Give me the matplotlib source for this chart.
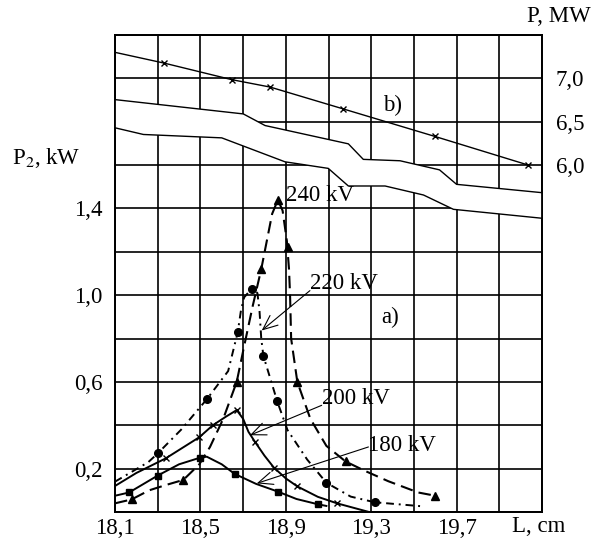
import matplotlib.pyplot as plt

plt.rcParams['font.family'] = ['Liberation Serif', 'DejaVu Serif']
plt.rcParams['mathtext.fontset'] = 'stix'

# ---------------- a) P2, kW against L, cm ----------------
# traced curve vertices
l240 = [18.10, 18.178, 18.26, 18.34, 18.42, 18.495, 18.545, 18.607, 18.67, 18.706,
        18.745, 18.785, 18.836, 18.863, 18.885, 18.905, 18.915, 18.92, 18.925, 18.954,
        19.015, 19.09, 19.18, 19.27, 19.38, 19.52, 19.60]
p240 = [0.04, 0.058, 0.10, 0.125, 0.148, 0.22, 0.30, 0.43, 0.60, 0.77,
        0.95, 1.12, 1.375, 1.44, 1.39, 1.25, 1.12, 1.00, 0.80, 0.60,
        0.43, 0.305, 0.233, 0.19, 0.142, 0.09, 0.075]
l240_pts = [18.178, 18.42, 18.67, 18.785, 18.863, 18.908, 18.954, 19.18, 19.60]
p240_pts = [0.058, 0.148, 0.60, 1.12, 1.44, 1.22, 0.60, 0.233, 0.075]

l220 = [18.10, 18.256, 18.30, 18.41, 18.53, 18.63, 18.675, 18.69, 18.705, 18.74,
        18.767, 18.777, 18.785, 18.795, 18.826, 18.86, 18.908, 19.00, 19.09, 19.204,
        19.316, 19.53]
p220 = [0.14, 0.23, 0.27, 0.38, 0.52, 0.65, 0.83, 0.93, 0.99, 1.03,
        1.01, 0.925, 0.80, 0.72, 0.62, 0.51, 0.378, 0.242, 0.135, 0.071,
        0.045, 0.027]
l220_pts = [18.30, 18.53, 18.675, 18.74, 18.795, 18.86, 19.09, 19.316]
p220_pts = [0.27, 0.52, 0.83, 1.03, 0.72, 0.51, 0.135, 0.045]

l200 = [18.10, 18.20, 18.337, 18.495, 18.558, 18.62, 18.67, 18.70, 18.725, 18.756,
        18.80, 18.844, 18.90, 18.954, 19.05, 19.14, 19.29]
p200 = [0.12, 0.18, 0.247, 0.345, 0.40, 0.44, 0.47, 0.43, 0.37, 0.323,
        0.26, 0.205, 0.155, 0.118, 0.07, 0.04, 0.0]
l200_pts = [18.337, 18.495, 18.558, 18.67, 18.756, 18.844, 18.954, 19.14]
p200_pts = [0.247, 0.345, 0.40, 0.47, 0.323, 0.205, 0.118, 0.04]

l180 = [18.10, 18.166, 18.30, 18.40, 18.50, 18.53, 18.60, 18.66, 18.76, 18.863,
        18.95, 19.049, 19.09]
p180 = [0.075, 0.09, 0.168, 0.22, 0.251, 0.255, 0.22, 0.176, 0.13, 0.094,
        0.06, 0.036, 0.028]
l180_pts = [18.166, 18.30, 18.50, 18.66, 18.863, 19.049]
p180_pts = [0.09, 0.168, 0.251, 0.176, 0.094, 0.036]

# ---------------- b) P, MW against L, cm ----------------
lb = [18.10, 18.33, 18.647, 18.826, 19.166, 19.599, 20.036]
pb = [7.30, 7.176, 6.985, 6.90, 6.65, 6.33, 6.00]
lb_pts = lb[1:]
pb_pts = pb[1:]

# band edges
l_up = [18.10, 18.701, 18.803, 19.193, 19.263, 19.435, 19.62, 19.70, 20.10]
p_up = [6.755, 6.59, 6.456, 6.245, 6.066, 6.05, 5.945, 5.778, 5.682]
l_lo = [18.10, 18.233, 18.60, 18.896, 19.099, 19.193, 19.365, 19.545, 19.685, 20.10]
p_lo = [6.43, 6.353, 6.314, 6.038, 5.962, 5.759, 5.759, 5.655, 5.49, 5.387]

x_grid = [18.1, 18.3, 18.5, 18.7, 18.9, 19.1, 19.3, 19.5, 19.7, 19.9, 20.1]
x_labels = ['18,1', '', '18,5', '', '18,9', '', '19,3', '', '19,7', '', '']
y_grid = [0.0, 0.2, 0.4, 0.6, 0.8, 1.0, 1.2, 1.4, 1.6, 1.8, 2.0, 2.2]
y_labels = ['', '0,2', '', '0,6', '', '1,0', '', '1,4', '', '', '', '']
p_ticks = [6.0, 6.5, 7.0]
p_labels = ['6,0', '6,5', '7,0']

FS = 16.5

fig = plt.figure(figsize=(5.95, 5.38), dpi=100)
ax = fig.add_axes([115 / 595, 1 - 512 / 538, 427 / 595, 477 / 538])
ax.set_xlim(18.1, 20.1)
ax.set_ylim(0, 2.2)
ax.set_xticks(x_grid)
ax.set_xticklabels(x_labels, fontsize=FS)
ax.set_yticks(y_grid)
ax.set_yticklabels(y_labels, fontsize=FS)
ax.tick_params(axis='both', length=0)
ax.tick_params(axis='x', pad=4)
ax.tick_params(axis='y', pad=9)
ax.grid(True, color='black', linewidth=1.2)
ax.set_axisbelow(True)
for sp in ax.spines.values():
    sp.set_linewidth(1.3)

ax.plot(l240, p240, color='black', lw=1.5, ls=(0, (6, 3)))
ax.plot(l240_pts, p240_pts, ls='none', marker='^', ms=6, color='black')
ax.plot(l220, p220, color='black', lw=1.4, ls=(0, (4, 2.5, 1, 2.5)))
ax.plot(l220_pts, p220_pts, ls='none', marker='o', ms=5.5, color='black')
ax.plot(l200, p200, color='black', lw=1.4)
ax.plot(l200_pts, p200_pts, ls='none', marker='x', ms=5, mew=1, color='black')
ax.plot(l180, p180, color='black', lw=1.4)
ax.plot(l180_pts, p180_pts, ls='none', marker='s', ms=4.5, color='black')

arrow = dict(arrowstyle='->,head_length=0.7,head_width=0.3', lw=0.8, color='black',
             shrinkA=0, shrinkB=0, mutation_scale=15)
ax.annotate('', xy=(18.787, 0.837), xytext=(19.013, 1.021), arrowprops=arrow)
ax.annotate('', xy=(18.732, 0.354), xytext=(19.068, 0.492), arrowprops=arrow)
ax.annotate('', xy=(18.764, 0.132), xytext=(19.287, 0.30), arrowprops=arrow)

ax.text(18.9, 1.462, '240 kV', fontsize=FS, ha='left', va='center')
ax.text(19.013, 1.055, '220 kV', fontsize=FS, ha='left', va='center')
ax.text(19.068, 0.524, '200 kV', fontsize=FS, ha='left', va='center')
ax.text(19.285, 0.308, '180 kV', fontsize=FS, ha='left', va='center')
ax.text(19.349, 0.899, 'a)', fontsize=FS, ha='left', va='center')

ax2 = ax.twinx()
ax2.set_ylim(2.0, 7.5)
ax2.set_yticks(p_ticks)
ax2.set_yticklabels(p_labels, fontsize=FS)
ax2.tick_params(axis='y', length=0, pad=10)
for sp in ax2.spines.values():
    sp.set_linewidth(1.3)

ax2.fill(l_up + l_lo[::-1], p_up + p_lo[::-1], color='white', lw=0, zorder=2)
ax2.plot(l_up, p_up, color='black', lw=1.0, zorder=3)
ax2.plot(l_lo, p_lo, color='black', lw=1.0, zorder=3)
ax2.plot(lb, pb, color='black', lw=1.0, zorder=3)
ax2.plot(lb_pts, pb_pts, ls='none', marker='x', ms=4, mew=1, color='black', zorder=3)
ax2.text(19.355, 6.69, 'b)', fontsize=FS, ha='left', va='center')

fig.text(12 / 595, 1 - 157.5 / 538, 'P$_2$, kW', fontsize=FS, ha='left', va='center')
fig.text(591 / 595, 1 - 17 / 538, 'P, MW', fontsize=FS, ha='right', va='center')
fig.text(565 / 595, 1 - 526 / 538, 'L, cm', fontsize=FS, ha='right', va='center')

fig.savefig('out.png', dpi=100)
